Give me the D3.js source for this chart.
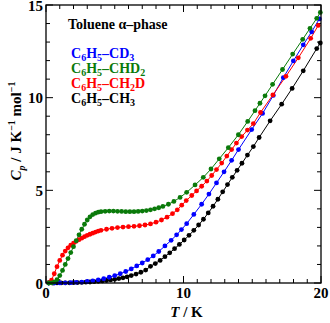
<!DOCTYPE html>
<html>
<head>
<meta charset="utf-8">
<script src="https://cdn.jsdelivr.net/npm/d3@7/dist/d3.min.js"></script>
<style>
  body { margin: 0; background: #fff; }
  text { font-family: "Liberation Serif", "DejaVu Serif", serif; }
</style>
</head>
<body>
<div id="chart"></div>
<script>
// temperatures (K) and heat capacities (J K-1 mol-1)
var tCD3 = [0.2, 0.6, 1.0, 1.4, 1.8, 2.2, 2.6, 3.0, 3.4, 3.8, 4.2, 4.6, 5.0, 5.4, 5.8, 6.2, 6.6, 7.0, 7.4, 7.8,
            8.2, 8.65, 9.1, 9.5, 9.85, 10.23, 10.75, 11.32, 11.85, 12.4, 12.95, 13.5, 14.0, 14.96, 15.75,
            16.53, 17.26, 17.99, 18.71, 19.32, 19.88];
var cpCD3 = [0, 0, 0.005, 0.01, 0.02, 0.035, 0.05, 0.08, 0.12, 0.17, 0.23, 0.31, 0.4, 0.5, 0.62, 0.76, 0.92, 1.08, 1.26, 1.46,
             1.7, 2.0, 2.3, 2.6, 2.88, 3.2, 3.7, 4.25, 4.8, 5.4, 6.0, 6.62, 7.2, 8.28, 9.15,
             10.12, 11.08, 11.98, 12.85, 13.55, 14.25];

var tCHD2 = [0.2, 0.4, 0.6, 0.8, 1.0, 1.2, 1.4, 1.6, 1.8, 2.0, 2.2, 2.4, 2.6, 2.8, 3.0, 3.2, 3.4, 3.6, 3.8, 4.0,
             4.3, 4.6, 4.9, 5.2, 5.5, 5.8, 6.1, 6.4, 6.7, 7.0, 7.3, 7.6, 7.9, 8.2, 8.5, 8.9, 9.3, 9.75,
             10.23, 10.84, 11.44, 12.0, 12.6, 13.26, 13.99, 14.67, 15.2, 15.56, 15.93, 16.48, 17.2, 17.94,
             18.67, 19.2, 19.69, 19.95];
var cpCHD2 = [0, 0.01, 0.05, 0.18, 0.4, 0.68, 1.0, 1.32, 1.64, 1.96, 2.28, 2.6, 2.9, 3.17, 3.4, 3.57, 3.69, 3.77, 3.82, 3.85,
              3.87, 3.88, 3.88, 3.87, 3.86, 3.85, 3.85, 3.85, 3.86, 3.88, 3.91, 3.95, 4.0, 4.06, 4.13, 4.25, 4.4, 4.62,
              4.89, 5.29, 5.7, 6.15, 6.7, 7.3, 8.0, 8.72, 9.3, 9.7, 10.1, 10.72, 11.52, 12.35,
              13.15, 13.74, 14.28, 14.6];

var tCH2D = [0.2, 0.4, 0.6, 0.8, 1.0, 1.2, 1.4, 1.6, 1.8, 2.0, 2.2, 2.4, 2.6, 2.8, 3.0, 3.2, 3.4, 3.6, 3.8, 4.0,
             4.4, 4.8, 5.2, 5.6, 6.0, 6.4, 6.8, 7.2, 7.6, 8.0, 8.4, 8.8, 9.2, 9.55, 9.87, 10.2, 10.6, 10.95,
             11.32, 11.7, 12.05, 12.4, 12.78, 13.15, 13.5, 13.85, 14.23, 14.65, 15.08, 15.6, 16.5, 17.45,
             18.35, 19.25, 19.8];
var cpCH2D = [0.02, 0.15, 0.5, 0.88, 1.22, 1.5, 1.72, 1.9, 2.04, 2.15, 2.25, 2.34, 2.42, 2.5, 2.57, 2.63, 2.69, 2.75, 2.8, 2.84,
              2.9, 2.95, 2.99, 3.02, 3.04, 3.06, 3.09, 3.13, 3.19, 3.28, 3.4, 3.55, 3.74, 3.95, 4.2, 4.45, 4.72, 4.97,
              5.22, 5.5, 5.8, 6.12, 6.47, 6.85, 7.2, 7.55, 7.9, 8.25, 8.6, 9.2, 10.15, 11.15,
              12.15, 13.2, 13.9];

var tCH3 = [0.2, 0.5, 0.8, 1.1, 1.4, 1.7, 2.0, 2.3, 2.6, 2.9, 3.2, 3.5, 3.8, 4.1, 4.4, 4.7, 5.0, 5.3, 5.6, 5.9,
            6.2, 6.55, 6.9, 7.25, 7.6, 7.95, 8.3, 8.65, 9.0, 9.35, 9.7, 10.05, 10.4, 10.75, 11.1, 11.45,
            11.8, 12.15, 12.5, 12.85, 13.2, 13.55, 13.9, 14.25, 14.65, 15.08, 15.5, 16.3, 17.14, 17.9,
            18.71, 19.69, 19.95];
var cpCH3 = [0, 0, 0.002, 0.005, 0.008, 0.012, 0.018, 0.025, 0.033, 0.043, 0.055, 0.07, 0.088, 0.11, 0.135, 0.165, 0.2, 0.24, 0.28, 0.33,
             0.4, 0.48, 0.58, 0.7, 0.9, 1.05, 1.22, 1.42, 1.63, 1.85, 2.08, 2.32, 2.57, 2.84, 3.13, 3.44,
             3.78, 4.14, 4.52, 4.92, 5.31, 5.7, 6.08, 6.46, 6.9, 7.36, 7.85, 8.75, 9.65, 10.5,
             11.45, 12.65, 12.95];

var xTicks = [0, 10, 20];
var yTicks = [0, 5, 10, 15];

// set the dimensions and margins of the graph
var margin = {top: 5, right: 9, bottom: 40, left: 46},
    width = 330 - margin.left - margin.right,
    height = 323 - margin.top - margin.bottom;

var svg = d3.select("#chart")
  .append("svg")
    .attr("width", 330)
    .attr("height", 323)
  .append("g")
    .attr("transform", "translate(" + margin.left + "," + margin.top + ")");

var x = d3.scaleLinear().domain([0, 20]).range([0, width]);
var y = d3.scaleLinear().domain([0, 15]).range([height, 0]);

// inward ticks on all four sides: minor every 1, major at the labels
var minorX = d3.range(0, 21), minorY = d3.range(0, 16);
function tickLen(v, step) { return v % step == 0 ? 7 : 4; }

var ticks = svg.append("g").attr("stroke", "#000").attr("stroke-width", 1);
minorX.forEach(function(v) {
  var len = tickLen(v, 10);
  ticks.append("line").attr("x1", x(v)).attr("x2", x(v)).attr("y1", height).attr("y2", height - len);
  ticks.append("line").attr("x1", x(v)).attr("x2", x(v)).attr("y1", 0).attr("y2", len);
});
minorY.forEach(function(v) {
  var len = tickLen(v, 5);
  ticks.append("line").attr("y1", y(v)).attr("y2", y(v)).attr("x1", 0).attr("x2", len);
  ticks.append("line").attr("y1", y(v)).attr("y2", y(v)).attr("x1", width).attr("x2", width - len);
});

// tick labels
svg.selectAll("xlab")
  .data(xTicks)
  .enter()
  .append("text")
    .attr("x", function(d) { return x(d); })
    .attr("y", height + 15)
    .attr("text-anchor", "middle")
    .style("font-size", "15px").style("font-weight", "bold")
    .text(function(d) { return d; });

svg.selectAll("ylab")
  .data(yTicks)
  .enter()
  .append("text")
    .attr("x", -3)
    .attr("y", function(d) { return y(d) + 5.5; })
    .attr("text-anchor", "end")
    .style("font-size", "15px").style("font-weight", "bold")
    .text(function(d) { return d; });

// axis titles
var xt = svg.append("text")
  .attr("x", width / 2 + 3)
  .attr("y", height + 34)
  .attr("text-anchor", "middle")
  .style("font-size", "15px").style("font-weight", "bold");
xt.append("tspan").style("font-style", "italic").text("T");
xt.append("tspan").text(" / K");

var yt = svg.append("text")
  .attr("transform", "translate(" + (-25) + "," + 126 + ") rotate(-90)")
  .attr("text-anchor", "middle")
  .style("font-size", "15px").style("font-weight", "bold");
yt.append("tspan").style("font-style", "italic").text("C");
yt.append("tspan").style("font-style", "italic").style("font-size", "10px").attr("dy", 4).text("p");
yt.append("tspan").attr("dy", -4).text(" / J K");
yt.append("tspan").style("font-size", "10px").attr("dy", -6).text("\u22121");
yt.append("tspan").attr("dy", 6).text(" mol");
yt.append("tspan").style("font-size", "10px").attr("dy", -6).text("\u22121");

// series
var series = [
  {name: "CH3",  t: tCH3,  cp: cpCH3,  color: "#000000"},
  {name: "CD3",  t: tCD3,  cp: cpCD3,  color: "#0000ff"},
  {name: "CH2D", t: tCH2D, cp: cpCH2D, color: "#ff0000"},
  {name: "CHD2", t: tCHD2, cp: cpCHD2, color: "#0a7a0a"}
];

var dataReady = series.map(function(s) {
  return {name: s.name, color: s.color,
          values: s.t.map(function(t, i) { return {time: t, value: s.cp[i]}; })};
});

var line = d3.line()
  .x(function(d) { return x(d.time); })
  .y(function(d) { return y(d.value); });

svg.selectAll("myLines")
  .data(dataReady)
  .enter()
  .append("path")
    .attr("d", function(d) { return line(d.values); })
    .attr("stroke", function(d) { return d.color; })
    .style("stroke-width", 1)
    .style("fill", "none");

svg.selectAll("myDots")
  .data(dataReady)
  .enter()
  .append("g")
    .style("fill", function(d) { return d.color; })
  .selectAll("myPoints")
  .data(function(d) { return d.values; })
  .enter()
  .append("circle")
    .attr("cx", function(d) { return x(d.time); })
    .attr("cy", function(d) { return y(d.value); })
    .attr("r", 2.4);

// frame
svg.append("rect")
  .attr("width", width).attr("height", height)
  .style("fill", "none").style("stroke", "#000").style("stroke-width", 1.3);

// legend
svg.append("text")
  .attr("x", 22).attr("y", 24)
  .style("font-size", "14px").style("font-weight", "bold")
  .text("Toluene \u03b1\u2013phase");

var legendRows = [
  {color: "#0000ff", parts: [["C", 0], ["6", 1], ["H", 0], ["5", 1], ["\u2013CD", 0], ["3", 1]]},
  {color: "#0a7a0a", parts: [["C", 0], ["6", 1], ["H", 0], ["5", 1], ["\u2013CHD", 0], ["2", 1]]},
  {color: "#ff0000", parts: [["C", 0], ["6", 1], ["H", 0], ["5", 1], ["\u2013CH", 0], ["2", 1], ["D", 0]]},
  {color: "#000000", parts: [["C", 0], ["6", 1], ["H", 0], ["5", 1], ["\u2013CH", 0], ["3", 1]]}
];

legendRows.forEach(function(row, i) {
  var t = svg.append("text")
    .attr("x", 25).attr("y", 52.5 + i * 15.3)
    .style("font-size", "14px").style("font-weight", "bold")
    .style("fill", row.color);
  var sub = 0;
  row.parts.forEach(function(p) {
    var ts = t.append("tspan").text(p[0]);
    if (p[1] && !sub) { ts.attr("dy", 3).style("font-size", "10px"); sub = 1; }
    else if (!p[1] && sub) { ts.attr("dy", -3); sub = 0; }
    else if (p[1]) { ts.style("font-size", "10px"); }
  });
});
</script>
</body>
</html>
